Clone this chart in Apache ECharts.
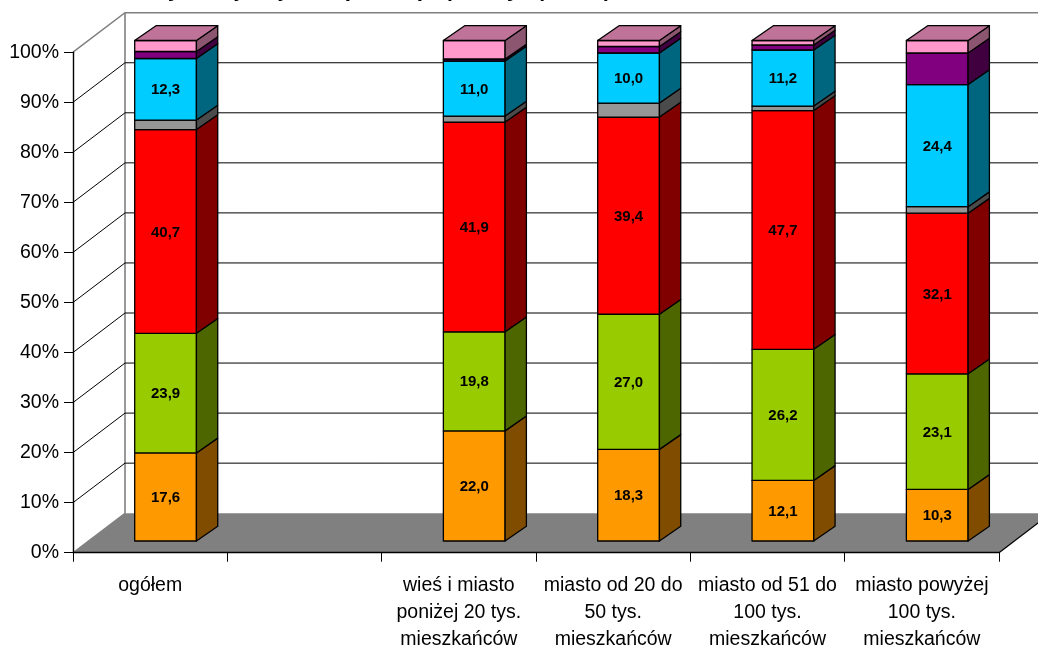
<!DOCTYPE html>
<html>
<head>
<meta charset="utf-8">
<title>Wykres</title>
<style>
html,body{margin:0;padding:0;background:#fff;overflow:hidden}
#chart{width:1038px;height:645px}
</style>
<script src="https://cdn.jsdelivr.net/npm/echarts@6/dist/echarts.min.js"></script>
</head>
<body>
<div id="chart"></div>
<script>
// Categories along the bottom; the second slot is deliberately empty.
const categories = [
  'ogółem',
  '',
  'wieś i miasto\nponiżej 20 tys.\nmieszkańców',
  'miasto od 20 do\n50 tys.\nmieszkańców',
  'miasto od 51 do\n100 tys.\nmieszkańców',
  'miasto powyżej\n100 tys.\nmieszkańców'
];

// Stack segments from the bottom up, percent per category.
const orangeValues = [17.6, null, 22.0, 18.3, 12.1, 10.3];
const greenValues  = [23.9, null, 19.8, 27.0, 26.2, 23.1];
const redValues    = [40.7, null, 41.9, 39.4, 47.7, 32.1];
const grayValues   = [1.9,  null, 1.2,  2.8,  0.9,  1.3];
const blueValues   = [12.3, null, 11.0, 10.0, 11.2, 24.4];
const purpleValues = [1.4,  null, 0.4,  1.3,  1.0,  6.3];
const pinkValues   = [2.2,  null, 3.7,  1.2,  0.9,  2.5];

const yTicks = [0, 10, 20, 30, 40, 50, 60, 70, 80, 90, 100];

// Only the lower edge of the heading falls inside the canvas.
const headingGlyphs = ['y', 'j', 'j', 'ę', 'ę', 'p', 'y', '(', ')'];
const headingGlyphLeft = [168, 235, 279, 340, 412, 447, 507, 537, 604];

// Colours per segment: front face, side face, whether the value is printed.
const segments = [
  {name: 'a', values: orangeValues, front: '#FF9900', side: '#804D00', label: true},
  {name: 'b', values: greenValues,  front: '#99CC00', side: '#4D6600', label: true},
  {name: 'c', values: redValues,    front: '#FF0000', side: '#800000', label: true},
  {name: 'd', values: grayValues,   front: '#969696', side: '#4B4B4B', label: false},
  {name: 'e', values: blueValues,   front: '#00CCFF', side: '#006680', label: true},
  {name: 'f', values: purpleValues, front: '#800080', side: '#400040', label: false},
  {name: 'g', values: pinkValues,   front: '#FF99CC', side: '#8C5570', label: false, top: '#BF7399'}
];

// Oblique projection: how far the rear plane and a box are pushed.
const WALL_DX = 52, WALL_DY = -39.5;
const BOX_DX = 21.3, BOX_DY = -14.8;
const BOX_SHIFT_X = 15.4, BOX_SHIFT_Y = -11.7;
const BOX_WIDTH_RATIO = 0.4;

const GRAY_EDGE = '#808080';

function renderFloor(params, api) {
  const cs = params.coordSys;
  const y0 = api.coord([0, 0])[1];
  const l = cs.x, r = cs.x + cs.width;
  return {
    type: 'polygon',
    shape: {points: [[l, y0], [l + WALL_DX, y0 + WALL_DY], [r + WALL_DX, y0 + WALL_DY], [r, y0]]},
    style: {fill: '#808080', stroke: null}
  };
}

function renderWalls(params, api) {
  const cs = params.coordSys;
  const v = api.value(0);
  const y = api.coord([0, v])[1];
  const l = cs.x, r = cs.x + cs.width;
  const children = [];
  if (v === 0) {
    // Front-right floor edge and the rear vertical corner of the walls.
    const yTop = api.coord([0, yTicks[yTicks.length - 1]])[1];
    children.push({type: 'polyline', shape: {points: [[l, y], [l + WALL_DX, y + WALL_DY]]},
      style: {stroke: GRAY_EDGE, lineWidth: 1.4, fill: null}});
    children.push({type: 'polyline', shape: {points: [[r, y], [r + WALL_DX, y + WALL_DY]]},
      style: {stroke: '#000', lineWidth: 1.2, fill: null}});
    children.push({type: 'polyline', shape: {points: [[l + WALL_DX, y + WALL_DY], [l + WALL_DX, yTop + WALL_DY]]},
      style: {stroke: GRAY_EDGE, lineWidth: 1.6, fill: null}});
  } else {
    const isTop = v === yTicks[yTicks.length - 1];
    const stroke = isTop ? GRAY_EDGE : '#000';
    const lw = isTop ? 1.5 : 1;
    children.push({type: 'polyline',
      shape: {points: [[l, y], [l + WALL_DX, y + WALL_DY], [r + WALL_DX, y + WALL_DY]]},
      style: {stroke: stroke, lineWidth: lw, fill: null}});
  }
  return {type: 'group', children: children};
}

function renderBox(seg) {
  return function (params, api) {
    const cat = api.value(0), base = api.value(1), top = api.value(2), val = api.value(3);
    const pBase = api.coord([cat, base]);
    const pTop = api.coord([cat, top]);
    const w = api.size([1, 0])[0] * BOX_WIDTH_RATIO;
    const x0 = pBase[0] + BOX_SHIFT_X - w / 2, x1 = x0 + w;
    const yb = pBase[1] + BOX_SHIFT_Y, yt = pTop[1] + BOX_SHIFT_Y;
    const edge = {stroke: '#000', lineWidth: 1.3, lineJoin: 'round'};
    const children = [
      {type: 'polygon', shape: {points: [[x0, yb], [x1, yb], [x1, yt], [x0, yt]]},
        style: Object.assign({fill: seg.front}, edge)},
      {type: 'polygon', shape: {points: [[x1, yb], [x1 + BOX_DX, yb + BOX_DY], [x1 + BOX_DX, yt + BOX_DY], [x1, yt]]},
        style: Object.assign({fill: seg.side}, edge)}
    ];
    if (seg.top) {
      children.push({type: 'polygon',
        shape: {points: [[x0, yt], [x1, yt], [x1 + BOX_DX, yt + BOX_DY], [x0 + BOX_DX, yt + BOX_DY]]},
        style: Object.assign({fill: seg.top}, edge)});
    }
    if (seg.label) {
      children.push({type: 'text', z2: 10,
        style: {text: val.toFixed(1).replace('.', ','), x: (x0 + x1) / 2, y: (yb + yt) / 2 + 1,
          align: 'center', verticalAlign: 'middle', fill: '#000',
          font: 'bold 15px "Liberation Sans", Arial, sans-serif'}});
    }
    return {type: 'group', children: children};
  };
}

// Running base of each stack, so every segment starts where the last one ended.
const running = categories.map(() => 0);
const boxSeries = segments.map(function (seg) {
  const rows = [];
  seg.values.forEach(function (v, i) {
    if (v === null) return;
    rows.push([i, running[i], running[i] + v, v]);
    running[i] += v;
  });
  return {
    type: 'custom', name: seg.name, data: rows, z: 5, clip: false,
    encode: {x: 0, y: [1, 2]}, silent: true,
    renderItem: renderBox(seg)
  };
});

const chart = echarts.init(document.getElementById('chart'), null, {renderer: 'canvas'});
chart.setOption({
  animation: false,
  backgroundColor: '#fff',
  textStyle: {fontFamily: '"Liberation Sans", Arial, sans-serif'},
  graphic: headingGlyphs.map(function (g, i) {
    return {type: 'text', left: headingGlyphLeft[i], top: -19, silent: true,
      style: {text: g, fill: '#000', font: 'bold 21px "Liberation Sans", Arial, sans-serif'}};
  }),
  grid: {left: 73, top: 52.2, width: 926, height: 500.5, containLabel: false, outerBoundsMode: 'none'},
  xAxis: {
    type: 'category', data: categories, boundaryGap: true,
    axisLine: {show: true, lineStyle: {color: '#000', width: 1.4}},
    axisTick: {show: true, alignWithLabel: false, length: 9, lineStyle: {color: '#000'}},
    axisLabel: {show: true, interval: 0, margin: 19, lineHeight: 27, fontSize: 19.5, color: '#000',
      fontFamily: '"Liberation Sans", Arial, sans-serif'},
    splitLine: {show: false}, z: 3
  },
  yAxis: {
    type: 'value', min: 0, max: 100, interval: 10,
    axisLine: {show: true, lineStyle: {color: '#000', width: 1.4}},
    axisTick: {show: true, length: 9, lineStyle: {color: '#000'}},
    axisLabel: {show: true, margin: 14, fontSize: 19.5, color: '#000', formatter: '{value}%',
      padding: [2, 0, 0, 0],
      fontFamily: '"Liberation Sans", Arial, sans-serif'},
    splitLine: {show: false}, z: 3
  },
  series: [
    {type: 'custom', name: 'floor', data: [[0, 0]], z: 1, clip: false, silent: true,
      encode: {x: 0, y: 1}, renderItem: renderFloor},
    {type: 'custom', name: 'walls', data: yTicks.map(v => [v]), z: 2, clip: false, silent: true,
      encode: {y: 0}, renderItem: renderWalls}
  ].concat(boxSeries)
});
</script>
</body>
</html>
